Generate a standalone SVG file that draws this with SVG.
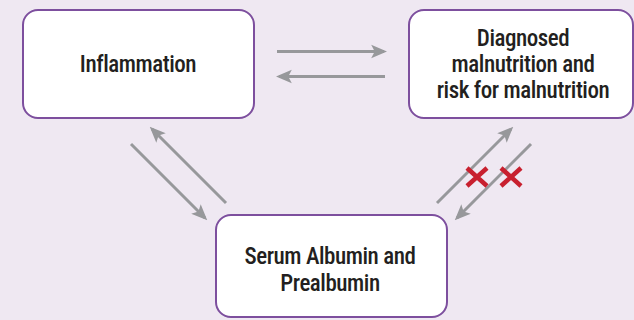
<svg xmlns="http://www.w3.org/2000/svg" width="634" height="320" viewBox="0 0 634 320">
  <style>
    .box { fill: #ffffff; stroke: #7d4f9e; stroke-width: 2; }
    .lbl { font-family: "Roboto Condensed", "Liberation Sans Narrow", "DejaVu Sans Condensed", Roboto, sans-serif; font-stretch: condensed; font-size: 23px; letter-spacing: -0.45px; font-weight: 500; fill: #231f20; text-anchor: middle; }
    .conn { stroke: #97989b; stroke-width: 3; fill: none; marker-end: url(#ah); }
    .x { stroke: #c8202f; stroke-width: 4.5; stroke-linecap: butt; }
  </style>
  <defs>
    <marker id="ah" viewBox="0 0 10 10" refX="8" refY="5" markerUnits="userSpaceOnUse" markerWidth="16" markerHeight="16" orient="auto">
      <path d="M0,0.8 L10,5 L0,9.2 L2.2,5 Z" fill="#97989b"/>
    </marker>
  </defs>
  <rect width="634" height="320" fill="#efe8f2"/>
  <g id="inflammation">
    <rect class="box" x="23" y="10" width="231" height="108" rx="15"/>
    <text class="lbl" x="138" y="72">Inflammation</text>
  </g>
  <g id="malnutrition">
    <rect class="box" x="409" y="10" width="224" height="108" rx="15"/>
    <text class="lbl" x="523" y="46">Diagnosed</text>
    <text class="lbl" x="523" y="72">malnutrition and</text>
    <text class="lbl" x="523" y="98">risk for malnutrition</text>
  </g>
  <g id="albumin">
    <rect class="box" x="216" y="215" width="231" height="102" rx="15"/>
    <text class="lbl" x="330" y="264">Serum Albumin and</text>
    <text class="lbl" x="330" y="291">Prealbumin</text>
  </g>
  <g id="connectors">
    <line class="conn" x1="277" y1="51.5" x2="384" y2="51.5"/>
    <line class="conn" x1="385" y1="76.5" x2="279" y2="76.5"/>
    <line class="conn" x1="131" y1="144" x2="205" y2="218"/>
    <line class="conn" x1="226" y1="203" x2="152" y2="129"/>
    <line class="conn" x1="437" y1="203" x2="511" y2="129"/>
    <line class="conn" x1="531" y1="144" x2="457" y2="218"/>
  </g>
  <g id="cross-marks">
    <path class="x" d="M467,168 L487,186 M487,168 L467,186"/>
    <path class="x" d="M501,168 L521,186 M521,168 L501,186"/>
  </g>
</svg>
